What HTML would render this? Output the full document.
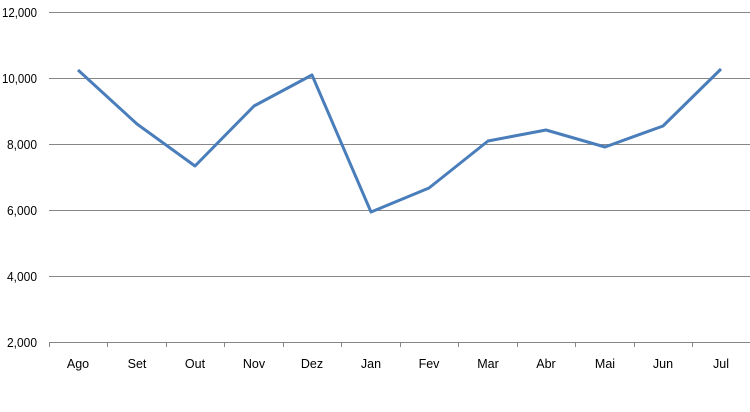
<!DOCTYPE html>
<html><head><style>body{margin:0;background:#fff}svg{display:block}text{font-family:"Liberation Sans",sans-serif;font-size:12.5px;fill:#000}</style></head>
<body>
<svg width="750" height="412" xmlns="http://www.w3.org/2000/svg">
<g stroke="#868686" stroke-width="1">
<line x1="49" y1="12.5" x2="750" y2="12.5"/>
<line x1="49" y1="78.5" x2="750" y2="78.5"/>
<line x1="49" y1="144.5" x2="750" y2="144.5"/>
<line x1="49" y1="210.5" x2="750" y2="210.5"/>
<line x1="49" y1="276.5" x2="750" y2="276.5"/>
<line x1="49" y1="342.5" x2="750" y2="342.5"/>
<line x1="49.5" y1="342" x2="49.5" y2="347"/>
<line x1="107.5" y1="342" x2="107.5" y2="347"/>
<line x1="166.5" y1="342" x2="166.5" y2="347"/>
<line x1="224.5" y1="342" x2="224.5" y2="347"/>
<line x1="283.5" y1="342" x2="283.5" y2="347"/>
<line x1="341.5" y1="342" x2="341.5" y2="347"/>
<line x1="400.5" y1="342" x2="400.5" y2="347"/>
<line x1="458.5" y1="342" x2="458.5" y2="347"/>
<line x1="517.5" y1="342" x2="517.5" y2="347"/>
<line x1="575.5" y1="342" x2="575.5" y2="347"/>
<line x1="634.5" y1="342" x2="634.5" y2="347"/>
<line x1="692.5" y1="342" x2="692.5" y2="347"/>
</g>
<g>
<text x="2" y="17" textLength="35" lengthAdjust="spacingAndGlyphs">12,000</text>
<text x="2" y="83" textLength="35" lengthAdjust="spacingAndGlyphs">10,000</text>
<text x="7" y="149" textLength="30" lengthAdjust="spacingAndGlyphs">8,000</text>
<text x="7" y="215" textLength="30" lengthAdjust="spacingAndGlyphs">6,000</text>
<text x="7" y="281" textLength="30" lengthAdjust="spacingAndGlyphs">4,000</text>
<text x="7" y="347" textLength="30" lengthAdjust="spacingAndGlyphs">2,000</text>
</g>
<g text-anchor="middle" style="font-size:13.5px">
<text x="78" y="368">Ago</text><text x="137" y="368">Set</text><text x="195" y="368">Out</text><text x="254" y="368">Nov</text><text x="312" y="368">Dez</text><text x="371" y="368">Jan</text><text x="429" y="368">Fev</text><text x="488" y="368">Mar</text><text x="546" y="368">Abr</text><text x="605" y="368">Mai</text><text x="663" y="368">Jun</text><text x="721" y="368">Jul</text>
</g>
<polyline fill="none" stroke="#4a7ebb" stroke-width="3" stroke-linejoin="round" points="78,70 137,124 195,166 254,106 312,75 371,212 429,188 488,141 546,130 605,147 663,126 721,69"/>
</svg>
</body></html>
